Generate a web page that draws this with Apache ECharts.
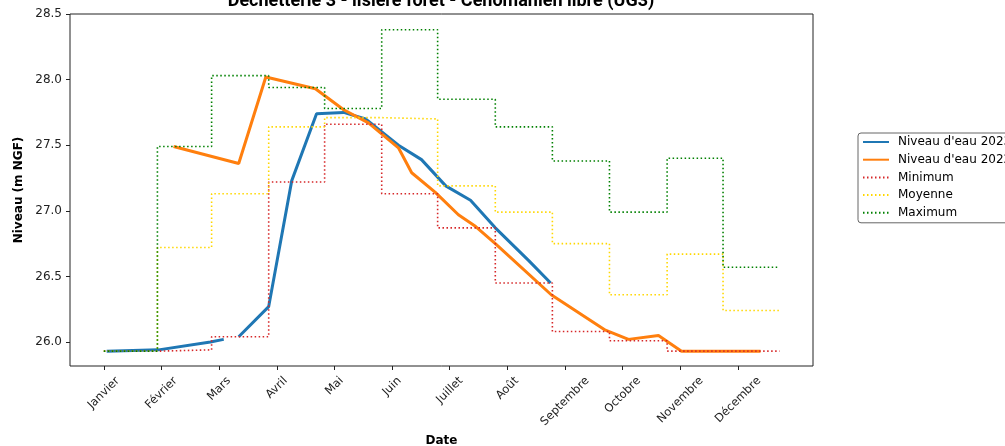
<!DOCTYPE html>
<html>
<head>
<meta charset="utf-8">
<script src="https://cdn.jsdelivr.net/npm/echarts@6/dist/echarts.min.js"></script>
<style>
html,body{margin:0;padding:0;background:#fff;}
#chart{width:1005px;height:446px;}
</style>
</head>
<body>
<div id="chart"></div>
<script>
// ---- Data (x in months: 0 = 1er janvier) ----
const months = ['Janvier','Février','Mars','Avril','Mai','Juin','Juillet','Août','Septembre','Octobre','Novembre','Décembre'];
const monthTicks = [0,1,2,3,4,5,6,7,8,9,10,11];
const yTicks = [26.0, 26.5, 27.0, 27.5, 28.0, 28.5];

const stepX = [0, 0.93, 1.87, 2.86, 3.83, 4.82, 5.79, 6.79, 7.78, 8.77, 9.77, 10.74, 11.72];
const minVals  = [25.93, 25.94, 26.04, 27.22, 27.66, 27.13, 26.87, 26.45, 26.08, 26.01, 25.93, 25.93];
const meanVals = [25.93, 26.72, 27.13, 27.64, 27.71, 27.70, 27.19, 26.99, 26.75, 26.36, 26.67, 26.24];
const maxVals  = [25.93, 27.49, 28.03, 27.94, 27.78, 28.38, 27.85, 27.64, 27.38, 26.99, 27.40, 26.57];

const x2023 = [0.05, 0.95, 1.85, 2.08, 2.2, 2.34, 2.86, 3.26, 3.69, 4.16, 4.54, 5.11, 5.51, 5.93, 6.36, 6.79, 7.37, 7.75];
const y2023 = [25.93, 25.94, 26.00, 26.02, null, 26.04, 26.27, 27.23, 27.74, 27.75, 27.70, 27.50, 27.39, 27.19, 27.08, 26.87, 26.62, 26.45];

const x2022 = [1.21, 2.34, 2.81, 3.67, 4.16, 4.59, 5.11, 5.34, 5.75, 6.15, 6.45, 6.79, 7.76, 8.70, 9.10, 9.62, 10.02, 11.39];
const y2022 = [27.49, 27.36, 28.02, 27.93, 27.77, 27.67, 27.48, 27.29, 27.14, 26.97, 26.88, 26.75, 26.36, 26.09, 26.02, 26.05, 25.93, 25.93];

// ---- helpers ----
function pairs(xs, ys){ return xs.map((x,i)=>[x, ys[i]==null ? '-' : ys[i]]); }
function steps(vals){
  const d = vals.map((v,i)=>[stepX[i], v]);
  d.push([stepX[stepX.length-1], vals[vals.length-1]]);
  return d;
}

const FONT = '"DejaVu Sans", sans-serif';
const LBL_SIZE = 11.5;
// label centring like matplotlib (ha=center, rotation 45)
const ctx = document.createElement('canvas').getContext('2d');
ctx.font = LBL_SIZE + 'px "DejaVu Sans"';
const rich = {};
months.forEach((m,i)=>{
  const w = ctx.measureText(m).width;
  const p = w/2;
  rich['m'+i] = {padding:[p, p, 0, 0], fontSize:LBL_SIZE, fontFamily:FONT, color:'#222'};
});

const dotted = {type:[1.5,2.5], width:1.6};

const chart = echarts.init(document.getElementById('chart'), null, {renderer:'canvas'});
chart.setOption({
  animation:false,
  backgroundColor:'#fff',
  title:{
    text:'Déchetterie 3 - lisière forêt - Cénomanien libre (UG3)',
    left:441, top:-8, textAlign:'center', padding:0,
    textStyle:{fontFamily:'Roboto, sans-serif', fontWeight:'bold', fontSize:18, color:'#000'}
  },
  grid:{left:70, right:192, top:14, bottom:80, show:true, borderColor:'#222', borderWidth:1,
        backgroundColor:'transparent', containLabel:false, outerBoundsMode:'none'},
  legend:{
    orient:'vertical', left:858, top:133,
    padding:[2,6,3,4], itemWidth:26, itemHeight:10, itemGap:3.7,
    backgroundColor:'#fff', borderColor:'#666', borderWidth:1, borderRadius:3,
    itemStyle:{opacity:0},
    textStyle:{fontFamily:FONT, fontSize:12, color:'#000', lineHeight:14, padding:[0,0,0,4]},
    data:['Niveau d\'eau 2023','Niveau d\'eau 2022','Minimum','Moyenne','Maximum']
  },
  xAxis:{
    type:'value', min:-0.586, max:12.3,
    name:'Date', nameLocation:'middle', nameGap:65,
    nameTextStyle:{fontFamily:FONT, fontWeight:'bold', fontSize:12, color:'#000'},
    axisLine:{show:false, onZero:false},
    axisTick:{show:true, length:4, lineStyle:{color:'#222'}, customValues:monthTicks},
    axisLabel:{
      customValues:monthTicks, rotate:45, align:'center', verticalAlign:'middle', margin:13,
      fontFamily:FONT, fontSize:LBL_SIZE, color:'#222',
      formatter:(v)=>{ const i = Math.round(v); return '{m'+i+'|'+months[i]+'}'; },
      rich:rich
    },
    splitLine:{show:false}
  },
  yAxis:{
    type:'value', min:25.817, max:28.5,
    name:'Niveau (m NGF)', nameLocation:'middle', nameGap:43,
    nameTextStyle:{fontFamily:FONT, fontWeight:'bold', fontSize:12, color:'#000'},
    axisLine:{show:false, onZero:false},
    axisTick:{show:true, length:4, lineStyle:{color:'#222'}, customValues:yTicks},
    axisLabel:{customValues:yTicks, margin:8, fontFamily:FONT, fontSize:12, color:'#222', formatter:(v)=>v.toFixed(1)},
    splitLine:{show:false}
  },
  series:[
    {name:'Niveau d\'eau 2023', type:'line', data:pairs(x2023,y2023), symbol:'none', connectNulls:false,
     lineStyle:{color:'#1f77b4', width:3}, itemStyle:{color:'#1f77b4'}},
    {name:'Niveau d\'eau 2022', type:'line', data:pairs(x2022,y2022), symbol:'none',
     lineStyle:{color:'#ff7f0e', width:3}, itemStyle:{color:'#ff7f0e'}},
    {name:'Minimum', type:'line', step:'end', data:steps(minVals), symbol:'none',
     lineStyle:Object.assign({color:'#d62728'}, dotted), itemStyle:{color:'#d62728'}},
    {name:'Moyenne', type:'line', step:'end', data:steps(meanVals), symbol:'none',
     lineStyle:Object.assign({color:'#ffd700'}, dotted), itemStyle:{color:'#ffd700'}},
    {name:'Maximum', type:'line', step:'end', data:steps(maxVals), symbol:'none',
     lineStyle:Object.assign({color:'#008000'}, dotted), itemStyle:{color:'#008000'}}
  ]
});
</script>
</body>
</html>
